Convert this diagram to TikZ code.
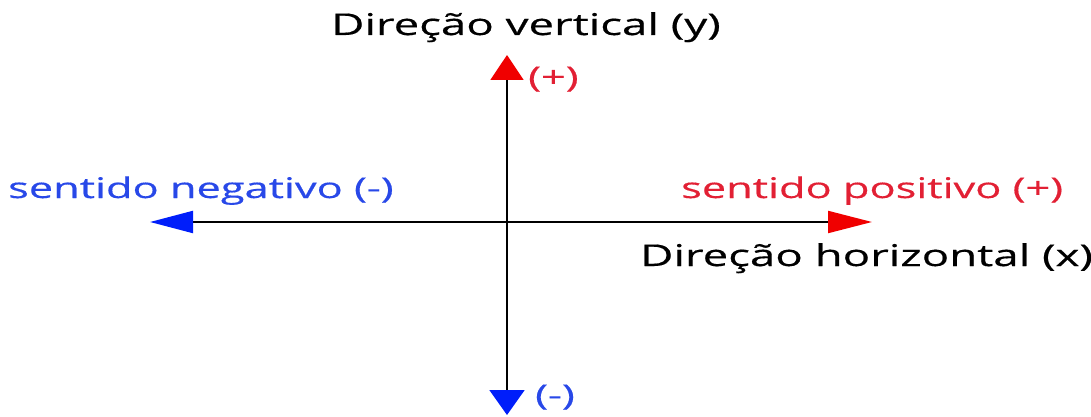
\documentclass[tikz,border=0pt]{standalone}
\usepackage{fontspec}
\usepackage{graphicx}
\setmainfont{Open Sans}[FakeBold=0.4]
\usetikzlibrary{arrows.meta}
\definecolor{tred}{RGB}{226,32,52}
\definecolor{tblue}{RGB}{40,72,232}
\definecolor{ared}{RGB}{240,0,0}
\definecolor{ablue}{RGB}{0,30,250}
\newcommand\wtext[1]{\scalebox{1.52}[1]{#1}}
\tikzset{
  axis/.style={line width=2pt, black},
  lbl/.style={inner sep=0pt, anchor=base west, font=\fontsize{30}{34}\selectfont},
  slbl/.style={inner sep=0pt, anchor=base west, font=\fontsize{28.5}{32}\selectfont},
}
\begin{document}
\begin{tikzpicture}[x=1pt,y=-1pt]
\useasboundingbox (0,0) rectangle (1091,417);
\coordinate (O) at (507,222);
\coordinate (top) at (507,55);
\coordinate (bot) at (507,415);
\coordinate (left) at (150,222);
\coordinate (right) at (872,222);
\draw[axis,-{Triangle[length=25pt,width=33pt,ared]}] (O) -- (top);
\draw[axis,-{Triangle[length=25pt,width=35pt,ablue]}] (O) -- (bot);
\draw[axis,-{Triangle[length=43pt,width=22pt,ablue]}] (O) -- (left);
\draw[axis,-{Triangle[length=44pt,width=22pt,ared]}] (O) -- (right);
\node[lbl] (ty) at (331,35) {\wtext{Direção vertical (y)}};
\node[lbl] (tx) at (640,266) {\wtext{Direção horizontal (x)}};
\node[slbl,text=tred] (tp) at (528,87) {\wtext{(+)}};
\node[slbl,text=tblue] (tm) at (535,405) {\wtext{(-)}};
\node[slbl,text=tblue] (tn) at (8,198) {\wtext{sentido negativo (-)}};
\node[slbl,text=tred] (tpos) at (681,198) {\wtext{sentido positivo (+)}};
\end{tikzpicture}
\end{document}
